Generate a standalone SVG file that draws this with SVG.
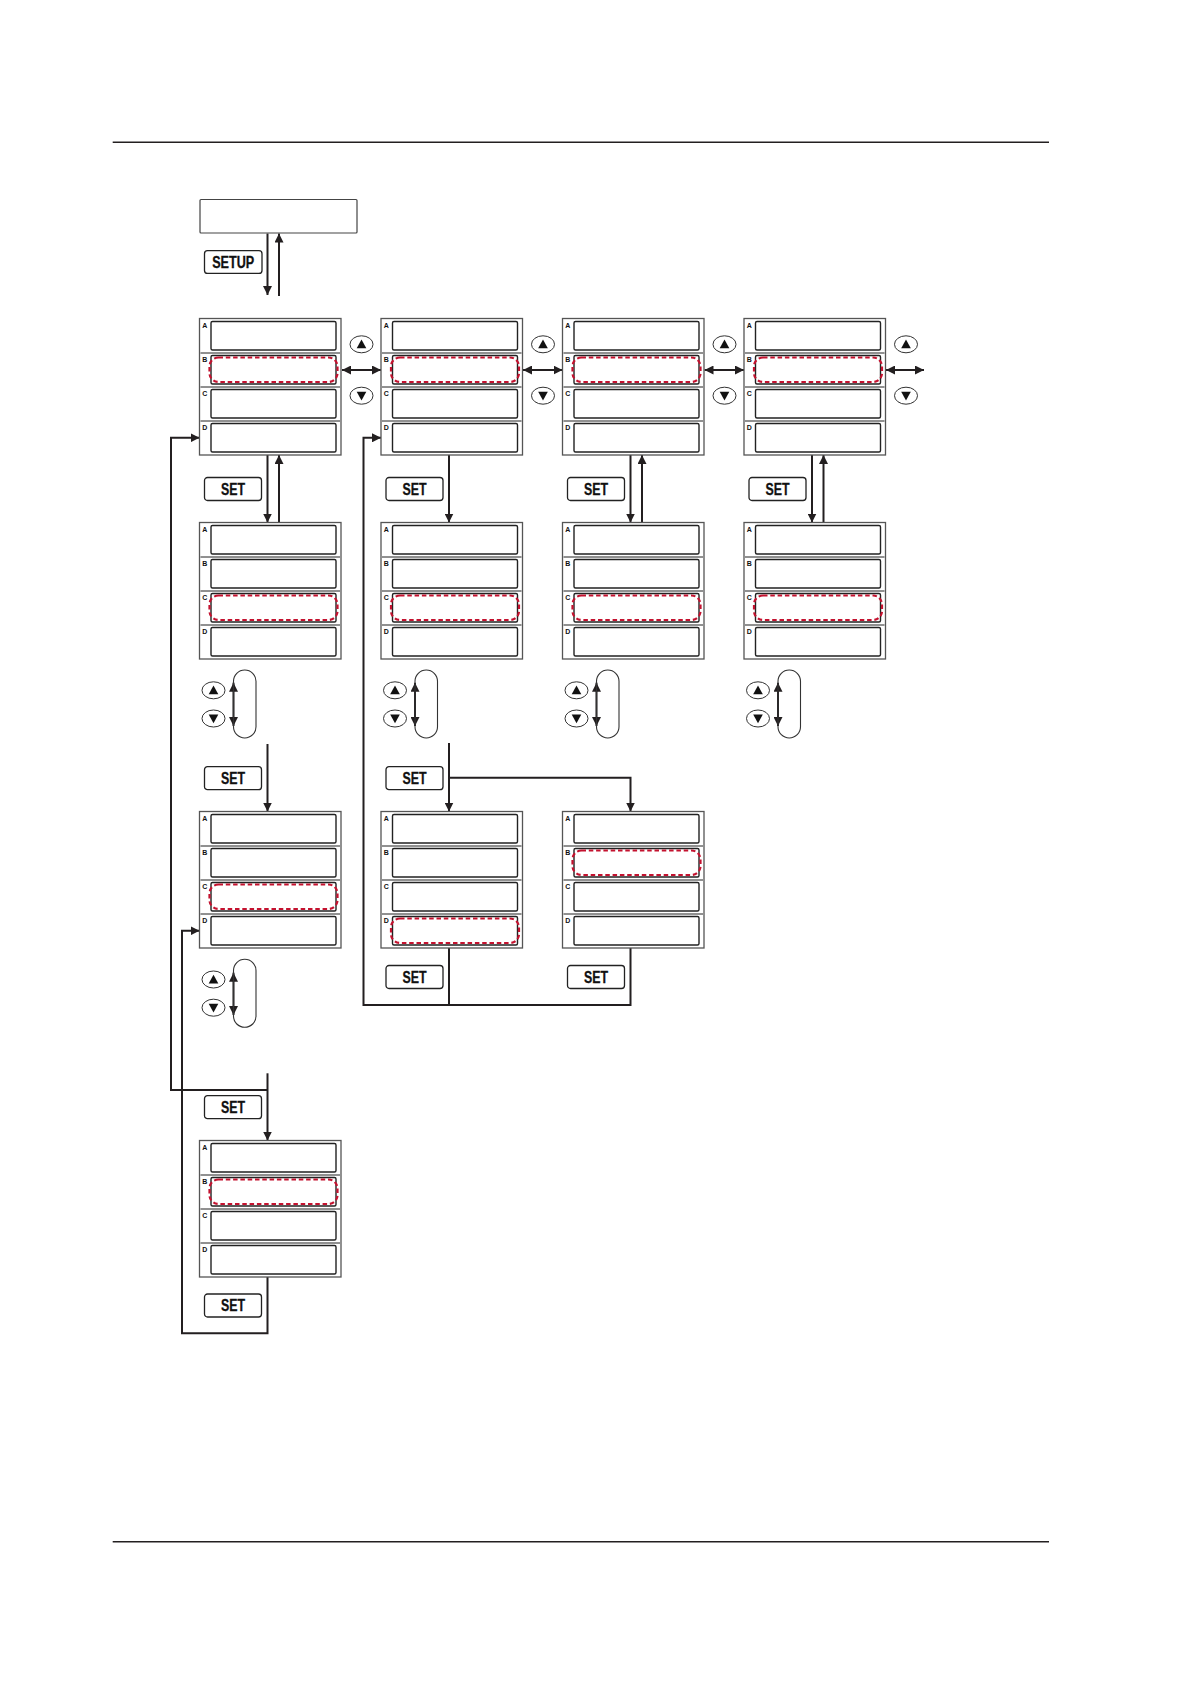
<svg xmlns="http://www.w3.org/2000/svg" xmlns:xlink="http://www.w3.org/1999/xlink" width="1191" height="1684" viewBox="0 0 1191 1684">
<style>
.rule{stroke:#231f20;stroke-width:1.4;fill:none}
.panel{fill:#fff;stroke:#555;stroke-width:1.3}
.cell{fill:#fff;stroke:#222;stroke-width:1.4}
.sep{stroke:#222;stroke-width:1}
.lbl{font-family:"Liberation Sans",Arial,sans-serif;font-weight:bold;font-size:7px;fill:#111}
.hl{fill:none;stroke:#c4122f;stroke-width:2.2;stroke-dasharray:4.5 2.8}
.btn{fill:#fff;stroke:#222;stroke-width:1.3}
.btxt{font-family:"Liberation Sans",Arial,sans-serif;font-weight:bold;font-size:16px;fill:#111;stroke:#111;stroke-width:0.3;text-anchor:middle}
.oval{fill:#fff;stroke:#333;stroke-width:1}
.tri{fill:#111}
.cap{fill:none;stroke:#333;stroke-width:1.1}
.con{fill:none;stroke:#231f20;stroke-width:2}
.box{fill:#fff;stroke:#444;stroke-width:1.2}
</style>
<defs>
<marker id="ah" viewBox="0 0 9 9" refX="9" refY="4.5" markerWidth="9" markerHeight="9" markerUnits="userSpaceOnUse" orient="auto-start-reverse">
<path d="M0,0 L9,4.5 L0,9 z" fill="#231f20"/>
</marker>
<g id="panelBase">
<rect class="panel" x="0" y="0" width="141.5" height="136.5"/>
<line class="sep" x1="1" y1="34.5" x2="140.5" y2="34.5"/>
<line class="sep" x1="1" y1="68.5" x2="140.5" y2="68.5"/>
<line class="sep" x1="1" y1="102.5" x2="140.5" y2="102.5"/>
<rect class="cell" x="11.5" y="3" width="125" height="28.5" rx="1.5"/>
<rect class="cell" x="11.5" y="37" width="125" height="28.5" rx="1.5"/>
<rect class="cell" x="11.5" y="71" width="125" height="28.5" rx="1.5"/>
<rect class="cell" x="11.5" y="105" width="125" height="28.5" rx="1.5"/>
<text class="lbl" x="2.8" y="9">A</text>
<text class="lbl" x="2.8" y="43">B</text>
<text class="lbl" x="2.8" y="77">C</text>
<text class="lbl" x="2.8" y="111">D</text>
</g>
<g id="upBtn"><ellipse class="oval" cx="0" cy="0" rx="11.5" ry="8.5"/><polygon class="tri" points="0,-4.8 4.8,4 -4.8,4"/></g>
<g id="dnBtn"><ellipse class="oval" cx="0" cy="0" rx="11.5" ry="8.5"/><polygon class="tri" points="-4.8,-4 4.8,-4 0,4.8"/></g>
<g id="setBtn"><rect class="btn" x="0" y="0" width="57" height="23" rx="3"/><text class="btxt" x="28.5" y="17.3" textLength="24" lengthAdjust="spacingAndGlyphs">SET</text></g>
</defs>

<g id="page-rules">
<line class="rule" x1="112.7" y1="142.3" x2="1049" y2="142.3"/>
<line class="rule" x1="112.7" y1="1541.7" x2="1049" y2="1541.7"/>
</g>

<g id="connectors">
<line class="con" x1="267.5" y1="233.5" x2="267.5" y2="295" marker-end="url(#ah)"/>
<line class="con" x1="279" y1="296" x2="279" y2="233.5" marker-end="url(#ah)"/>

<line class="con" x1="342" y1="370" x2="381" y2="370" marker-start="url(#ah)" marker-end="url(#ah)"/>
<line class="con" x1="523" y1="370" x2="562.5" y2="370" marker-start="url(#ah)" marker-end="url(#ah)"/>
<line class="con" x1="704.5" y1="370" x2="744" y2="370" marker-start="url(#ah)" marker-end="url(#ah)"/>
<line class="con" x1="886" y1="370" x2="924" y2="370" marker-start="url(#ah)" marker-end="url(#ah)"/>

<line class="con" x1="267.5" y1="455" x2="267.5" y2="522.5" marker-end="url(#ah)"/>
<line class="con" x1="279" y1="522.5" x2="279" y2="455" marker-end="url(#ah)"/>
<line class="con" x1="449" y1="455" x2="449" y2="522.5" marker-end="url(#ah)"/>
<line class="con" x1="630.5" y1="455" x2="630.5" y2="522.5" marker-end="url(#ah)"/>
<line class="con" x1="642" y1="522.5" x2="642" y2="455" marker-end="url(#ah)"/>
<line class="con" x1="812" y1="455" x2="812" y2="522.5" marker-end="url(#ah)"/>
<line class="con" x1="823.5" y1="522.5" x2="823.5" y2="455" marker-end="url(#ah)"/>

<line class="con" x1="233.5" y1="682.7" x2="233.5" y2="726" marker-start="url(#ah)" marker-end="url(#ah)"/>
<line class="con" x1="415" y1="682.7" x2="415" y2="726" marker-start="url(#ah)" marker-end="url(#ah)"/>
<line class="con" x1="596.5" y1="682.7" x2="596.5" y2="726" marker-start="url(#ah)" marker-end="url(#ah)"/>
<line class="con" x1="778" y1="682.7" x2="778" y2="726" marker-start="url(#ah)" marker-end="url(#ah)"/>

<line class="con" x1="267.5" y1="744" x2="267.5" y2="811.5" marker-end="url(#ah)"/>
<line class="con" x1="449" y1="743" x2="449" y2="811.5" marker-end="url(#ah)"/>
<path class="con" d="M449,777.7 H630.5 V811.5" marker-end="url(#ah)"/>

<path class="con" d="M449,948 V1005"/>
<path class="con" d="M630.5,948 V1005 H363.5 V437.8 H381" marker-end="url(#ah)"/>

<line class="con" x1="233.5" y1="972.7" x2="233.5" y2="1015" marker-start="url(#ah)" marker-end="url(#ah)"/>

<line class="con" x1="267.5" y1="1073.3" x2="267.5" y2="1140.5" marker-end="url(#ah)"/>
<path class="con" d="M267.5,1090 H171 V437.8 H199.5" marker-end="url(#ah)"/>
<path class="con" d="M267.5,1277 V1333.3 H182 V930.8 H199.5" marker-end="url(#ah)"/>
</g>

<g id="start-box"><rect class="box" x="200" y="199.5" width="157" height="33.5" rx="1"/></g>
<g id="btn-setup"><rect class="btn" x="204.5" y="250.7" width="57.5" height="22.7" rx="3"/><text class="btxt" x="233.2" y="267.9" textLength="42" lengthAdjust="spacingAndGlyphs">SETUP</text></g>

<g id="panel-r1c1"><use xlink:href="#panelBase" transform="translate(199.5,318.5)"/><rect class="hl" x="209.5" y="357.5" width="128" height="24.5" rx="9"/></g>
<g id="panel-r1c2"><use xlink:href="#panelBase" transform="translate(381,318.5)"/><rect class="hl" x="391" y="357.5" width="128" height="24.5" rx="9"/></g>
<g id="panel-r1c3"><use xlink:href="#panelBase" transform="translate(562.5,318.5)"/><rect class="hl" x="572.5" y="357.5" width="128" height="24.5" rx="9"/></g>
<g id="panel-r1c4"><use xlink:href="#panelBase" transform="translate(744,318.5)"/><rect class="hl" x="754" y="357.5" width="128" height="24.5" rx="9"/></g>

<g id="updown-r1c1"><use xlink:href="#upBtn" transform="translate(361.5,344.3)"/><use xlink:href="#dnBtn" transform="translate(361.5,395.7)"/></g>
<g id="updown-r1c2"><use xlink:href="#upBtn" transform="translate(543,344.3)"/><use xlink:href="#dnBtn" transform="translate(543,395.7)"/></g>
<g id="updown-r1c3"><use xlink:href="#upBtn" transform="translate(724.5,344.3)"/><use xlink:href="#dnBtn" transform="translate(724.5,395.7)"/></g>
<g id="updown-r1c4"><use xlink:href="#upBtn" transform="translate(906,344.3)"/><use xlink:href="#dnBtn" transform="translate(906,395.7)"/></g>

<g id="set-r1c1"><use xlink:href="#setBtn" transform="translate(204.5,477.5)"/></g>
<g id="set-r1c2"><use xlink:href="#setBtn" transform="translate(386,477.5)"/></g>
<g id="set-r1c3"><use xlink:href="#setBtn" transform="translate(567.5,477.5)"/></g>
<g id="set-r1c4"><use xlink:href="#setBtn" transform="translate(749,477.5)"/></g>

<g id="panel-r2c1"><use xlink:href="#panelBase" transform="translate(199.5,522.5)"/><rect class="hl" x="209.5" y="595.5" width="128" height="24.5" rx="9"/></g>
<g id="panel-r2c2"><use xlink:href="#panelBase" transform="translate(381,522.5)"/><rect class="hl" x="391" y="595.5" width="128" height="24.5" rx="9"/></g>
<g id="panel-r2c3"><use xlink:href="#panelBase" transform="translate(562.5,522.5)"/><rect class="hl" x="572.5" y="595.5" width="128" height="24.5" rx="9"/></g>
<g id="panel-r2c4"><use xlink:href="#panelBase" transform="translate(744,522.5)"/><rect class="hl" x="754" y="595.5" width="128" height="24.5" rx="9"/></g>

<g id="updown-r2c1"><rect class="cap" x="233.5" y="670" width="22.5" height="68" rx="11.25"/><use xlink:href="#upBtn" transform="translate(213.5,690.3)"/><use xlink:href="#dnBtn" transform="translate(213.5,718.5)"/></g>
<g id="updown-r2c2"><rect class="cap" x="415" y="670" width="22.5" height="68" rx="11.25"/><use xlink:href="#upBtn" transform="translate(395,690.3)"/><use xlink:href="#dnBtn" transform="translate(395,718.5)"/></g>
<g id="updown-r2c3"><rect class="cap" x="596.5" y="670" width="22.5" height="68" rx="11.25"/><use xlink:href="#upBtn" transform="translate(576.5,690.3)"/><use xlink:href="#dnBtn" transform="translate(576.5,718.5)"/></g>
<g id="updown-r2c4"><rect class="cap" x="778" y="670" width="22.5" height="68" rx="11.25"/><use xlink:href="#upBtn" transform="translate(758,690.3)"/><use xlink:href="#dnBtn" transform="translate(758,718.5)"/></g>

<g id="set-r2c1"><use xlink:href="#setBtn" transform="translate(204.5,766.7)"/></g>
<g id="set-r2c2"><use xlink:href="#setBtn" transform="translate(386,766.7)"/></g>

<g id="panel-r3c1"><use xlink:href="#panelBase" transform="translate(199.5,811.5)"/><rect class="hl" x="209.5" y="884.5" width="128" height="24.5" rx="9"/></g>
<g id="panel-r3c2"><use xlink:href="#panelBase" transform="translate(381,811.5)"/><rect class="hl" x="391" y="918.5" width="128" height="24.5" rx="9"/></g>
<g id="panel-r3c3"><use xlink:href="#panelBase" transform="translate(562.5,811.5)"/><rect class="hl" x="572.5" y="850.5" width="128" height="24.5" rx="9"/></g>

<g id="updown-r3c1"><rect class="cap" x="233.5" y="959.3" width="22.5" height="68" rx="11.25"/><use xlink:href="#upBtn" transform="translate(213.5,979.5)"/><use xlink:href="#dnBtn" transform="translate(213.5,1007.7)"/></g>

<g id="set-r3c2"><use xlink:href="#setBtn" transform="translate(386,965.5)"/></g>
<g id="set-r3c3"><use xlink:href="#setBtn" transform="translate(567.5,965.5)"/></g>
<g id="set-r3c1"><use xlink:href="#setBtn" transform="translate(204.5,1095.7)"/></g>

<g id="panel-r4c1"><use xlink:href="#panelBase" transform="translate(199.5,1140.5)"/><rect class="hl" x="209.5" y="1179.5" width="128" height="24.5" rx="9"/></g>
<g id="set-r4c1"><use xlink:href="#setBtn" transform="translate(204.5,1294)"/></g>
</svg>
